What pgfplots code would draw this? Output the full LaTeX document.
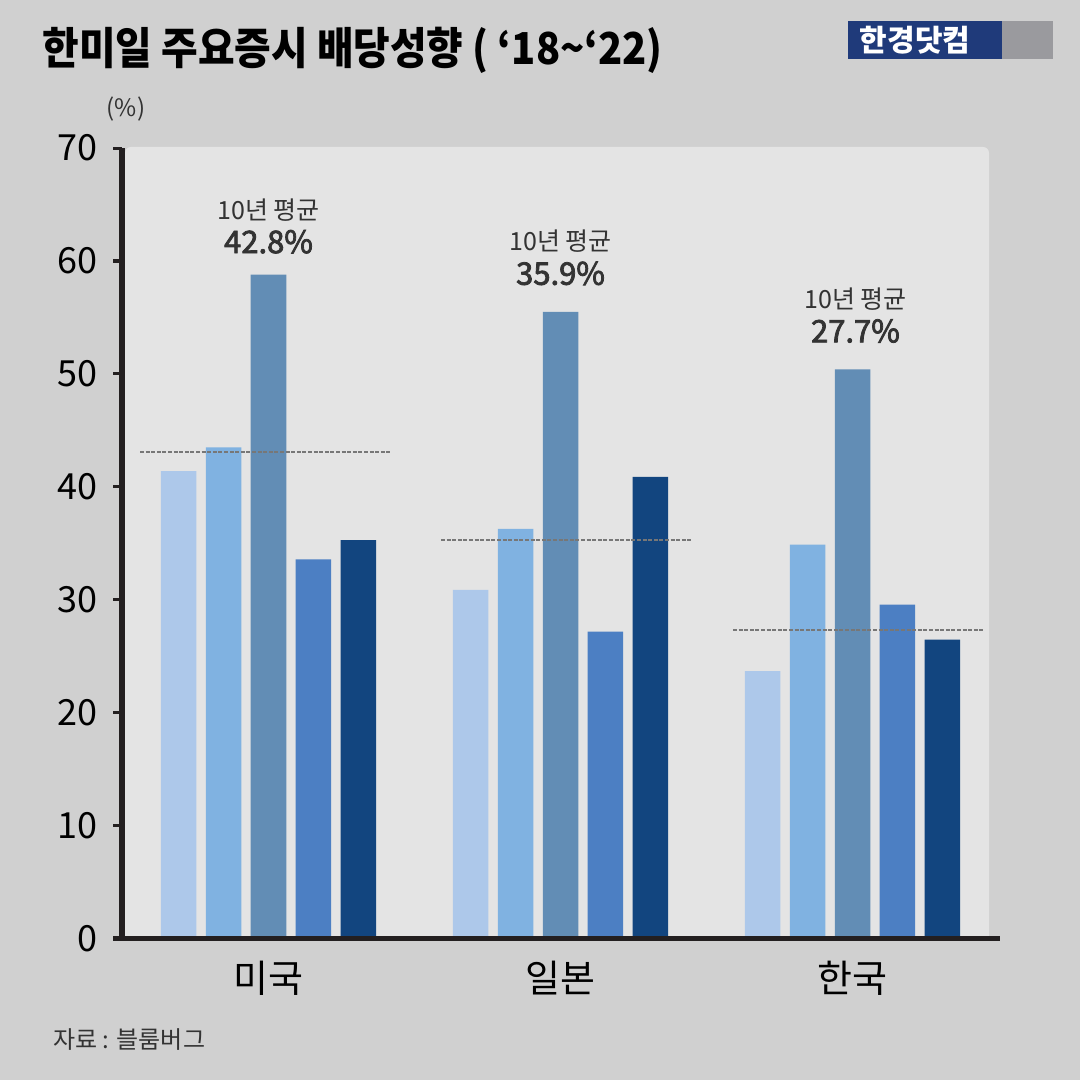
\documentclass[border=0pt]{standalone}
\usepackage{fontspec}
\setmainfont{Noto Sans CJK KR}
\newfontfamily\semib[FakeBold=2.5]{Noto Sans CJK KR}
\usepackage{pgfplots}
\pgfplotsset{compat=1.18}
\definecolor{bgout}{HTML}{D0D0D0}
\definecolor{bgin}{HTML}{E4E4E4}
\definecolor{cA}{HTML}{ADC8EA}
\definecolor{cB}{HTML}{80B2E1}
\definecolor{cC}{HTML}{628DB5}
\definecolor{cD}{HTML}{4C7FC3}
\definecolor{cE}{HTML}{12457F}
\definecolor{axisc}{HTML}{231F20}
\definecolor{dashc}{HTML}{777777}
\definecolor{navy}{HTML}{1F3A7A}
\definecolor{logogray}{HTML}{9A9A9E}
\definecolor{txt}{HTML}{333333}
\begin{document}
\begin{tikzpicture}
\begin{scope}[x=0.5pt,y=-0.5pt,shift={(0pt,540pt)}]
  \fill[bgout] (0,0) rectangle (1080,1080);
  \fill[bgin, rounded corners=3pt] (125,941) rectangle (989,147);
  \node[anchor=base west, inner sep=0pt, font=\bfseries\fontsize{22}{22}\selectfont, text=black] at (42,65) {\scalebox{0.905}[1]{한미일 주요증시 배당성향 ( ‘18\textasciitilde‘22)}};
  \fill[navy] (848,21) rectangle (1002,59);
  \fill[logogray] (1002,21) rectangle (1053,59);
  \node[inner sep=0pt, font=\bfseries\fontsize{15}{15}\selectfont, text=white] at (915,40) {한경닷컴};
  \node[inner sep=0pt, font=\fontsize{12}{12}\selectfont, text=txt] at (126,109) {(\%)};
  \node[anchor=base west, inner sep=0pt, font=\fontsize{12}{12}\selectfont, text=txt] at (53,1048) {자료 : 블룸버그};
\end{scope}
\begin{axis}[
  at={(61pt,70.5pt)}, anchor=south west,
  scale only axis, width=439pt, height=395.5pt,
  xmin=-0.5017, xmax=2.5051, ymin=0, ymax=70,
  enlargelimits=false, clip=false, axis on top,
  axis lines*=left,
  y axis line style={line width=3pt, color=axisc},
  x axis line style={line width=2.5pt, color=axisc, shorten <=-4.5pt},
  ytick={0,10,...,70},
  tick align=outside, major tick length=4.5pt,
  y tick style={line width=1.5pt, color=axisc},
  xtick={0,1,2}, xticklabels={미국,일본,한국},
  x tick style={draw=none},
  /pgf/number format/assume math mode=true,
  yticklabel style={font=\fontsize{18}{18}\selectfont, text=black, xshift=-4pt},
  xticklabel style={font=\fontsize{19}{19}\selectfont, text=black, yshift=-3pt},
  ybar, bar width=0.1216,
]
\addplot[fill=cA, draw=none, bar shift=-0.308] coordinates {(0,41.4) (1,30.9) (2,23.7)};
\addplot[fill=cB, draw=none, bar shift=-0.154] coordinates {(0,43.5) (1,36.3) (2,34.9)};
\addplot[fill=cC, draw=none, bar shift=0] coordinates {(0,58.8) (1,55.5) (2,50.4)};
\addplot[fill=cD, draw=none, bar shift=0.154] coordinates {(0,33.6) (1,27.2) (2,29.6)};
\addplot[fill=cE, draw=none, bar shift=0.308] coordinates {(0,35.3) (1,40.9) (2,26.5)};
\addplot[sharp plot, dashc, line width=1pt, dash pattern=on 2pt off 0.8pt] coordinates {(-0.44,43.1) (0.416,43.1)};
\addplot[sharp plot, dashc, line width=1pt, dash pattern=on 2pt off 0.8pt] coordinates {(0.591,35.3) (1.450,35.3)};
\addplot[sharp plot, dashc, line width=1pt, dash pattern=on 2pt off 0.8pt] coordinates {(1.591,27.35) (2.447,27.35)};
\node[anchor=base, inner sep=0pt, font=\fontsize{12.5}{12.5}\selectfont, text=txt] at (axis cs:0,63.7) {10년 평균};
\node[anchor=base, inner sep=0pt, font=\semib\fontsize{15.5}{15.5}\selectfont, text=txt] at (axis cs:0,60.7) {42.8\%};
\node[anchor=base, inner sep=0pt, font=\fontsize{12.5}{12.5}\selectfont, text=txt] at (axis cs:1.0,60.9) {10년 평균};
\node[anchor=base, inner sep=0pt, font=\semib\fontsize{15.5}{15.5}\selectfont, text=txt] at (axis cs:1.0,57.9) {35.9\%};
\node[anchor=base, inner sep=0pt, font=\fontsize{12.5}{12.5}\selectfont, text=txt] at (axis cs:2.01,55.8) {10년 평균};
\node[anchor=base, inner sep=0pt, font=\semib\fontsize{15.5}{15.5}\selectfont, text=txt] at (axis cs:2.01,52.8) {27.7\%};
\end{axis}
\end{tikzpicture}
\end{document}
